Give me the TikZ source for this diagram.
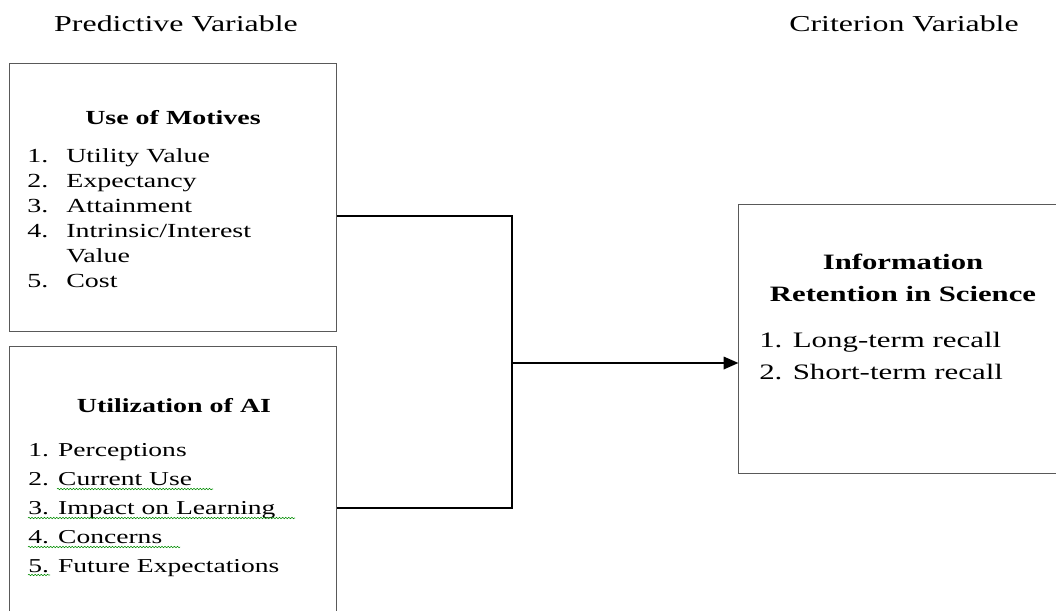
\documentclass[tikz,border=0pt]{standalone}
\usepackage{fontspec}
\setmainfont{Liberation Serif}[FakeStretch=1.4]
\usetikzlibrary{arrows.meta,decorations.pathmorphing}
\tikzset{>={Triangle[length=0.37cm,width=0.31cm]}}
\tikzset{
  box/.style={draw=black!65, line width=0.7pt, inner sep=0pt},
  link/.style={line width=1.5pt, line join=miter},
  head/.style={font=\fontsize{16.2}{20}\selectfont, anchor=base},
  ttl/.style={font=\bfseries\fontsize{14.2}{18}\selectfont, anchor=base},
  item/.style={font=\fontsize{14.2}{17}\selectfont, anchor=base west, inner sep=0pt},
  squig/.style={draw=green!55!black, line width=0.4pt, decorate,
    decoration={snake, amplitude=0.5pt, segment length=2.2pt}}
}

\begin{document}
\begin{tikzpicture}[x=0.025cm,y=-0.025cm]
    \clip (0,0) rectangle (1056,610);
    \node[head] (pred) at (176,32) {Predictive Variable};
    \node[head] (crit) at (904,32) {Criterion Variable};

    \node[box, minimum width=8.15cm, minimum height=6.675cm] (motives) at (173,197.5) {};
    \node[box, minimum width=8.15cm, minimum height=7.575cm] (aiuse) at (173,498.5) {};
    \node[box, minimum width=8.3cm, minimum height=6.7cm] (retention) at (905,339) {};

    % use of motives
    \node[ttl] (motives-t) at (173,124) {Use of Motives};
    \foreach \t [count=\i] in {Utility Value, Expectancy, Attainment, Intrinsic/Interest} {
        \node[item] (m\i n) at (27,{162.7+24.8*(\i-1)}) {\i.};
        \node[item] (m\i) at (66,{162.7+24.8*(\i-1)}) {\t};
      }
    \node[item] (m4b) at (66,262) {Value};
    \node[item] (m5n) at (27,287) {5.};
    \node[item] (m5) at (66,287) {Cost};

    % utilization of AI
    \node[ttl] (aiuse-t) at (174,412.7) {Utilization of AI};
    \foreach \t [count=\i] in {Perceptions, Current Use, Impact on Learning, Concerns, Future Expectations}
        \node[item, font=\fontsize{14}{17}\selectfont] (a\i) at (28,{456+29*(\i-1)}) {\i. \t};
    \draw[squig] (57,489) -- (213,489);
    \draw[squig] (28,518) -- (295,518);
    \draw[squig] (28,547) -- (180,547);
    \draw[squig] (28,575) -- (50,575);

    % information retention
    \node[ttl, font=\bfseries\fontsize{15.6}{18}\selectfont] (ret-t1) at (903,269) {Information};
    \node[ttl, font=\bfseries\fontsize{15.6}{18}\selectfont] (ret-t2) at (903,301) {Retention in Science};
    \foreach \t [count=\i] in {Long-term recall, Short-term recall}
        \node[item, font=\fontsize{15.7}{18}\selectfont] (r\i) at (759,{347+32*(\i-1)}) {\i. \t};

    % connectors
    \coordinate (jtop) at (512,216);
    \coordinate (jbot) at (512,508);
    \coordinate (jmid) at (512,363);
    \draw[link] (motives.east |- jtop) -- (jtop) -- (jbot) -- (aiuse.east |- jbot);
    \draw[link,->] (jmid) -- (retention.west |- jmid);
  \end{tikzpicture}
\end{document}
